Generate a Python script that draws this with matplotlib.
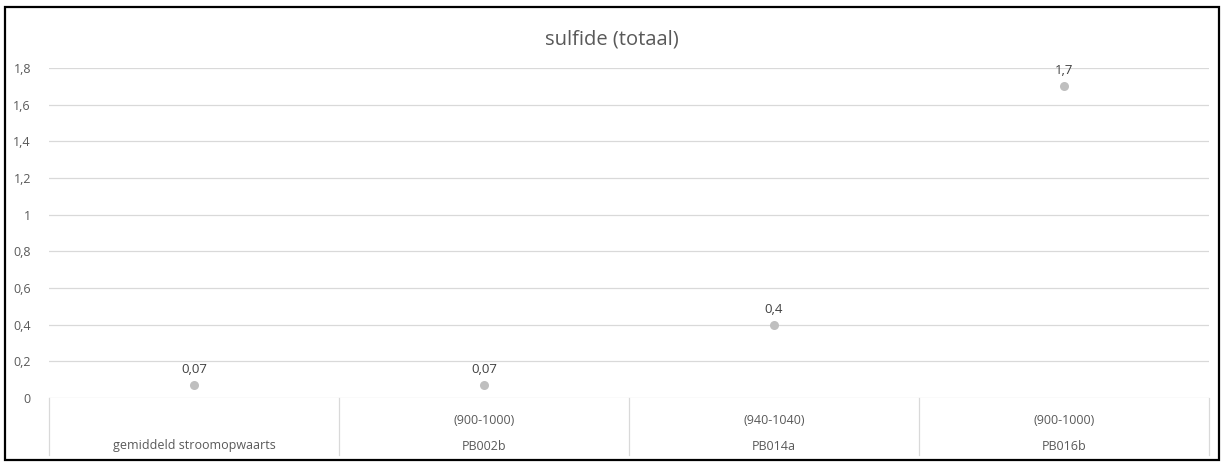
import matplotlib
matplotlib.use("Agg")
import matplotlib.pyplot as plt
from matplotlib.transforms import blended_transform_factory
from matplotlib.patches import Rectangle

title = "sulfide (totaal)"
locations = ["gemiddeld stroomopwaarts", "PB002b", "PB014a", "PB016b"]
depths = ["", "(900-1000)", "(940-1040)", "(900-1000)"]
values = [0.07, 0.07, 0.4, 1.7]
value_labels = ["0,07", "0,07", "0,4", "1,7"]
yticks = [0, 0.2, 0.4, 0.6, 0.8, 1.0, 1.2, 1.4, 1.6, 1.8]
ytick_labels = ["0", "0,2", "0,4", "0,6", "0,8", "1", "1,2", "1,4", "1,6", "1,8"]

plt.rcParams['font.family'] = ['Open Sans', 'DejaVu Sans']
W, H = 1224, 468
fig = plt.figure(figsize=(W / 100, H / 100), dpi=100)
ax = fig.add_axes([49 / W, 70 / H, (1209 - 49) / W, (398 - 68) / H])

x = list(range(len(values)))
ax.plot(x, values, linestyle='none', marker='o', markersize=6.5,
        color='#bfbfbf', markeredgewidth=0, clip_on=False, zorder=3)
for xi, v, lab in zip(x, values, value_labels):
    ax.annotate(lab, (xi, v), xytext=(0, 6.5), textcoords='offset points',
                ha='center', va='bottom', fontsize=9.5, color='#404040')

ax.set_xlim(-0.5, len(values) - 0.5)
ax.set_ylim(0, 1.8)
ax.set_yticks(yticks)
ax.set_yticklabels(ytick_labels, fontsize=9, color='#595959')
ax.tick_params(axis='y', length=0, pad=13)
ax.set_xticks([])
for s in ax.spines.values():
    s.set_visible(False)
ax.grid(axis='y', color='#d9d9d9', linewidth=0.9)
ax.set_axisbelow(True)

tr = blended_transform_factory(ax.transData, fig.transFigure)
# category separators
for b in [-0.5 + i for i in range(len(values) + 1)]:
    ax.plot([b, b], [70 / H, 13 / H], transform=tr, color='#d9d9d9',
            linewidth=0.9, clip_on=False)
for xi, d, loc in zip(x, depths, locations):
    if d:
        ax.text(xi, (H - 421) / H, d, transform=tr, ha='center', va='center',
                fontsize=9, color='#595959')
    ax.text(xi, (H - 446) / H, loc, transform=tr, ha='center', va='center',
            fontsize=9, color='#595959')

fig.text(612 / W, (H - 40) / H, title, ha='center', va='center',
         fontsize=14.5, color='#595959')

fig.patches.append(Rectangle((5 / W, 8 / H), (1219 - 5) / W, (461 - 8) / H,
                             transform=fig.transFigure, fill=False,
                             edgecolor='#000000', linewidth=1.6))

fig.savefig("out.png", dpi=100)
